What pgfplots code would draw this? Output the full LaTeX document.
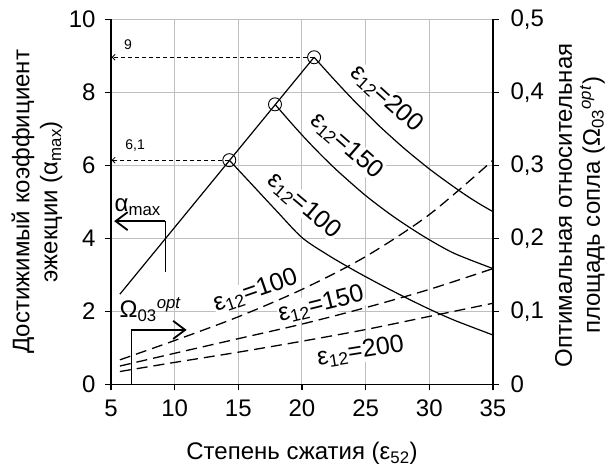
\documentclass[border=0pt]{standalone}
\usepackage{fontspec}
\setmainfont{Liberation Sans}
\usepackage{pgfplots}
\pgfplotsset{compat=1.18}
\usetikzlibrary{arrows.meta}
\newcommand{\bigf}{\fontsize{24}{28}\selectfont}
\newcommand{\crvf}{\fontsize{25}{29}\selectfont}
\newcommand{\smf}{\fontsize{14}{16}\selectfont}
\begin{document}
\begin{tikzpicture}
\path[use as bounding box] (-111pt,-83.7pt) rectangle (500pt,384.3pt);
\begin{axis}[
  scale only axis, width=382pt, height=365pt,
  xmin=5, xmax=35, ymin=0, ymax=10,
  xtick={5,10,...,35}, ytick={0,2,4,6,8,10},
  axis x line=bottom, axis y line=left,
  axis line style={-, line width=1.5pt},
  tick align=outside, major tick length=6pt,
  tick style={black, line width=1.2pt},
  grid=major, grid style={black!25, line width=1pt},
  tick label style={font=\bigf},
  xticklabel style={yshift=-6pt},
  yticklabel style={xshift=-6pt},
  label style={font=\bigf},
  /pgf/number format/.cd, use comma, assume math mode=true, /pgfplots/.cd,
  xlabel={Степень сжатия (ε\textsubscript{52})},
  xlabel style={at={(axis description cs:0.5,-0.19)}, anchor=center},
  ylabel={Достижимый коэффициент\\эжекции (α\textsubscript{max})},
  ylabel style={align=center, at={(axis description cs:-0.194,0.5)}, anchor=center},
  clip=false,
]
% labels
\node[font=\smf] at (axis cs:6.33,9.3) {9};
\node[font=\smf] at (axis cs:6.9,6.55) {6,1};
\node[font=\bigf] at (axis cs:7.1,4.85) {α\textsubscript{max}};
\node[font=\bigf] at (axis cs:8.1,2.05) {Ω\textsubscript{03}\textsuperscript{\textit{opt}}};
\node[font=\crvf, rotate=-42, fill=white, inner sep=0.5pt] at (axis cs:26.65,7.82) {ε\textsubscript{12}=200};
\node[font=\crvf, rotate=-41, fill=white, inner sep=0.5pt] at (axis cs:23.5,6.53) {ε\textsubscript{12}=150};
\node[font=\crvf, rotate=-40, fill=white, inner sep=0.5pt] at (axis cs:20.15,4.89) {ε\textsubscript{12}=100};
\node[font=\crvf, rotate=19, fill=white, inner sep=0.5pt] at (axis cs:16.35,2.56) {ε\textsubscript{12}=100};
\node[font=\crvf, rotate=14, fill=white, inner sep=0.5pt] at (axis cs:21.5,2.19) {ε\textsubscript{12}=150};
\node[font=\crvf, rotate=9, fill=white, inner sep=0.5pt] at (axis cs:24.6,0.9) {ε\textsubscript{12}=200};
% reference dashed lines
\addplot[black, line width=0.8pt, dash pattern=on 4pt off 3pt, -{Straight Barb[length=3pt,width=6pt]}] coordinates {(20.95,8.96) (5.05,8.96)};
\addplot[black, line width=0.8pt, dash pattern=on 4pt off 3pt, -{Straight Barb[length=3pt,width=6pt]}] coordinates {(14.29,6.14) (5.05,6.14)};
% rising line
\addplot[black, line width=1.2pt] coordinates {(5.7,2.47) (20.95,8.96)};
% falling curves
\addplot[black, line width=1.2pt, smooth] coordinates {
(14.29,6.14) (16,5.5) (18,4.75) (20,4.02) (22,3.55) (24,3.14) (26,2.76) (28,2.4) (30,2.06) (32,1.75) (35,1.35)};
\addplot[black, line width=1.2pt, smooth] coordinates {
(17.88,7.67) (19,7.22) (20,6.83) (21,6.46) (22,6.11) (23,5.78) (25,5.17) (27,4.64) (28.57,4.27) (30,3.96) (32,3.58) (35,3.17)};
\addplot[black, line width=1.2pt, smooth] coordinates {
(20.95,8.96) (22,8.55) (23,8.17) (24,7.8) (25,7.45) (26,7.1) (27,6.78) (28,6.47) (29,6.18) (30,5.9) (31,5.64) (32,5.39) (33,5.15) (34,4.93) (35,4.73)};
% peak circles
\addplot[only marks, mark=o, mark size=6.5pt, mark options={line width=0.9pt, black}] coordinates {(14.29,6.14) (17.88,7.67) (20.95,8.96)};
% alpha arrow
\addplot[black, line width=0.9pt] coordinates {(9.24,4.47) (9.24,3.08)};
\addplot[black, line width=1.8pt, -{Straight Barb[length=12pt,width=18pt,line width=1.8pt]}] coordinates {(9.24,4.47) (5.25,4.47)};
% omega arrow
\addplot[black, line width=0.9pt] coordinates {(6.57,0) (6.57,1.49)};
\addplot[black, line width=1.8pt, -{Straight Barb[length=12pt,width=18pt,line width=1.8pt]}] coordinates {(6.57,1.49) (10.94,1.49)};
\end{axis}
\begin{axis}[
  scale only axis, width=382pt, height=365pt,
  xmin=5, xmax=35, ymin=0, ymax=0.5,
  axis y line*=right, axis x line=none,
  axis line style={-, line width=1.5pt},
  ytick={0,0.1,0.2,0.3,0.4,0.5},
  tick align=outside, major tick length=6pt,
  tick style={black, line width=1.2pt},
  tick label style={font=\bigf},
  yticklabel style={xshift=8pt},
  label style={font=\bigf},
  /pgf/number format/.cd, use comma, assume math mode=true, /pgfplots/.cd,
  ylabel={Оптимальная относительная\\площадь сопла (Ω\textsubscript{03}\textsuperscript{\textit{opt}})},
  ylabel style={align=center, at={(axis description cs:1.228,0.49)}, anchor=center},
  clip=false,
]
\addplot[black, line width=1.3pt, dash pattern=on 11pt off 6pt, smooth] coordinates {
(5.7,0.0335) (10,0.06) (15,0.0925) (20,0.13) (25,0.175) (30,0.2325) (35,0.307)};
\addplot[black, line width=1.3pt, dash pattern=on 11pt off 6pt, smooth] coordinates {
(5.7,0.025) (10,0.0425) (15,0.0625) (20,0.0825) (25,0.105) (30,0.13) (35,0.1585)};
\addplot[black, line width=1.3pt, dash pattern=on 11pt off 6pt, smooth] coordinates {
(5.7,0.0175) (10,0.03) (15,0.044) (20,0.059) (25,0.075) (30,0.093) (35,0.111)};
\end{axis}
\end{tikzpicture}
\end{document}
